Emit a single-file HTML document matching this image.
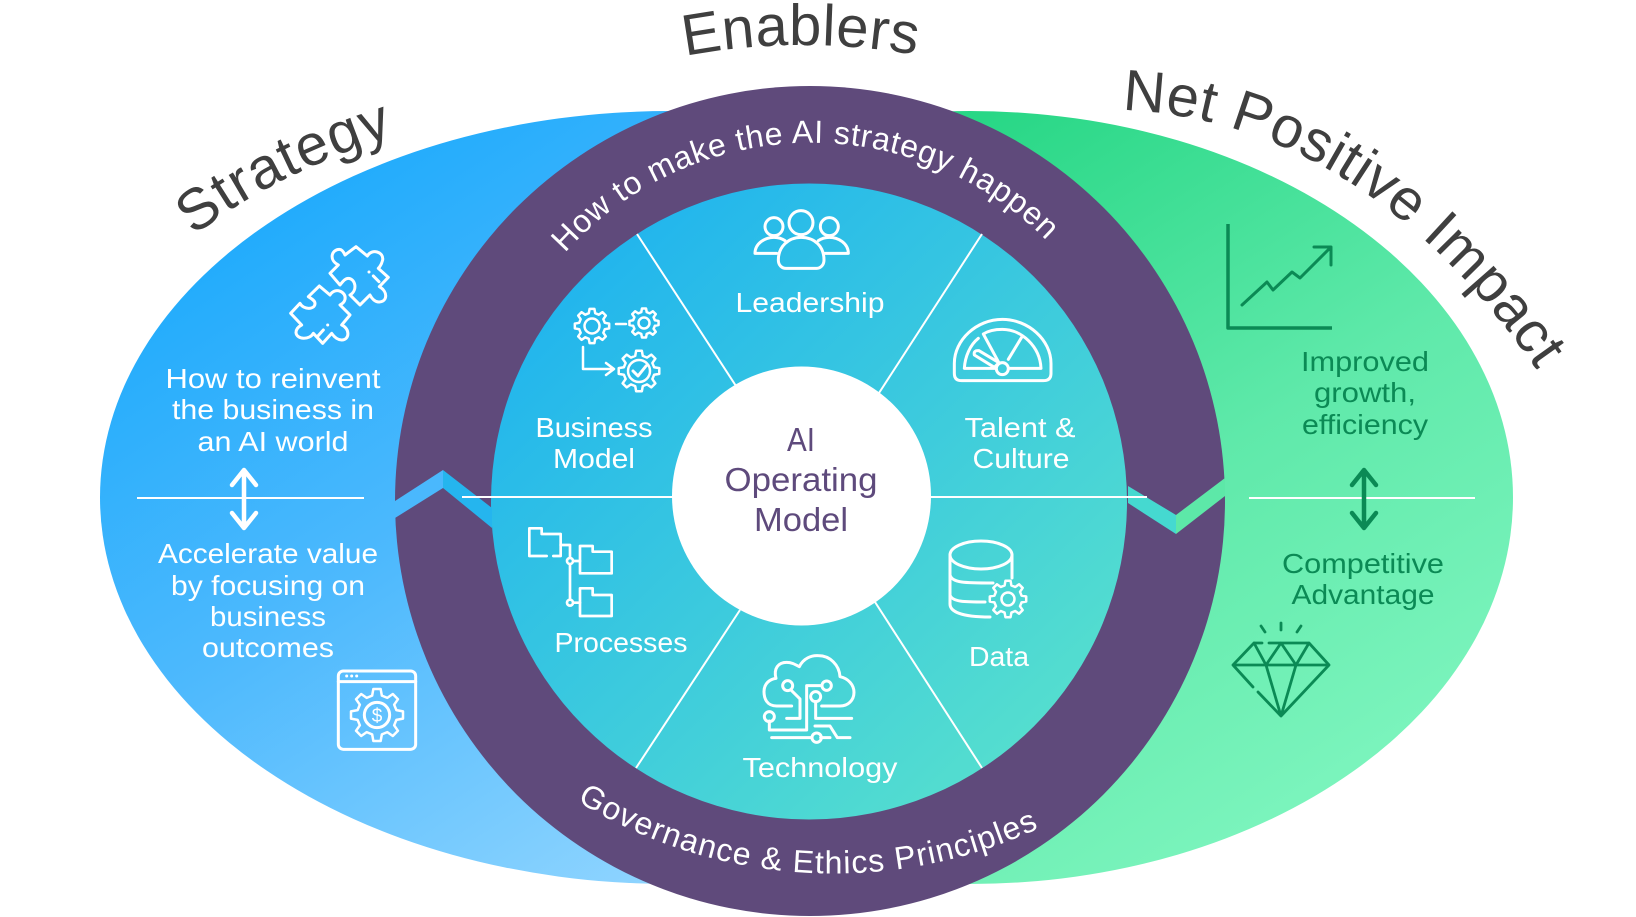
<!DOCTYPE html>
<html><head><meta charset="utf-8"><style>
html,body{margin:0;padding:0;background:#fff}
svg{display:block}
text{font-family:"Liberation Sans",sans-serif}
.w{fill:#fff;font-size:28px;text-anchor:middle}
.g{fill:#0b8a55;font-size:28px;text-anchor:middle}
.t{fill:#3f3f3f;font-size:58px}
.p{fill:#5e4a7c;font-size:33px;text-anchor:middle}
.i{fill:none;stroke:#fff;stroke-width:3;stroke-linejoin:round;stroke-linecap:round}
.z{fill:none;stroke:#fff;stroke-width:9;stroke-linejoin:round;stroke-linecap:round}
.d{fill:none;stroke:#0b8a55;stroke-width:3.5;stroke-linejoin:round;stroke-linecap:round}
.ns{fill:none;stroke:#fff;stroke-width:2.5;stroke-linejoin:round}
</style></head><body>
<svg width="1636" height="917" viewBox="0 0 1636 917" xmlns="http://www.w3.org/2000/svg">
<defs>
<linearGradient id="b" gradientUnits="userSpaceOnUse" x1="250" y1="200" x2="700" y2="890"><stop offset="0" stop-color="#1fabfc"/><stop offset=".45" stop-color="#4db9fd"/><stop offset="1" stop-color="#93d6ff"/></linearGradient>
<linearGradient id="gr" gradientUnits="userSpaceOnUse" x1="960" y1="130" x2="1400" y2="820"><stop offset="0" stop-color="#28d786"/><stop offset=".5" stop-color="#5fe9aa"/><stop offset="1" stop-color="#80f6c0"/></linearGradient>
<linearGradient id="c" gradientUnits="userSpaceOnUse" x1="560" y1="240" x2="1060" y2="760"><stop offset="0" stop-color="#1fb3ef"/><stop offset="1" stop-color="#57e0cd"/></linearGradient>
<path id="a1" d="M565,253 A331,331 0 0 1 1066,262"/>
<path id="a2" d="M577,801 A490,490 0 0 0 1048,824"/>
<path id="s" d="M194,236 Q275,172 405,132"/>
<path id="e" d="M685,56 Q802,34 922,56"/>
<path id="n" d="M1122,110 Q1372,120 1552,392"/>
<path id="gp" vector-effect="non-scaling-stroke" d="M-1.94,-7.76L-1.46,-10.4L1.46,-10.4L1.94,-7.76L4.12,-6.86L6.32,-8.39L8.39,-6.32L6.86,-4.12L7.76,-1.94L10.4,-1.46L10.4,1.46L7.76,1.94L6.86,4.12L8.39,6.32L6.32,8.39L4.12,6.86L1.94,7.76L1.46,10.4L-1.46,10.4L-1.94,7.76L-4.12,6.86L-6.32,8.39L-8.39,6.32L-6.86,4.12L-7.76,1.94L-10.4,1.46L-10.4,-1.46L-7.76,-1.94L-6.86,-4.12L-8.39,-6.32L-6.32,-8.39L-4.12,-6.86Z"/>
</defs>
<ellipse cx="670" cy="497.5" rx="570" ry="386.5" fill="url(#b)"/>
<ellipse cx="970" cy="497.5" rx="543" ry="386.5" fill="url(#gr)"/>
<circle cx="810" cy="501" r="415" fill="#5f4a7b"/>
<circle cx="809" cy="501.5" r="318" fill="url(#c)"/>
<polygon points="395,501 443,470 443,488 395,518" fill="#4ab8fd"/>
<polygon points="443,470 492,508 492,528 443,488" fill="#25b5ee"/>
<polygon points="1128,486 1176,515 1176,534 1128,503" fill="#45d9d0"/>
<polygon points="1176,515 1225,478 1225,496 1176,534" fill="#5de8a8"/>
<g stroke="#fff" stroke-width="2" fill="none">
<path d="M637,234L736,386M982,234L879,393M740,610L636,768M875,602L982,768"/>
<path d="M462,497H680M925,497H1147"/>
<path d="M137,498H364M1249,498H1475"/>
</g>
<circle cx="801.5" cy="496" r="129.5" fill="#fff"/>
<path d="M244,472V526M232,485L244,470L256,485M232,513L244,528L256,513" fill="none" stroke="#fff" stroke-width="4.5" stroke-linecap="round" stroke-linejoin="round"/>
<path d="M1364,472V526M1352,485L1364,470L1376,485M1352,513L1364,528L1376,513" fill="none" stroke="#0b8a55" stroke-width="4.5" stroke-linecap="round" stroke-linejoin="round"/>

<text class="t" letter-spacing="1.2"><textPath href="#s">Strategy</textPath></text>
<text class="t" letter-spacing=".5"><textPath href="#e">Enablers</textPath></text>
<text class="t" letter-spacing=".5"><textPath href="#n">Net Positive Impact</textPath></text>
<text fill="#fff" font-size="32" letter-spacing=".7"><textPath href="#a1">How to make the AI strategy happen</textPath></text>
<text fill="#fff" font-size="32" letter-spacing="1.15"><textPath href="#a2">Governance &amp; Ethics Principles</textPath></text>

<text class="w" x="273" y="388" textLength="215" lengthAdjust="spacingAndGlyphs">How to reinvent</text>
<text class="w" x="273" y="419" textLength="202" lengthAdjust="spacingAndGlyphs">the business in</text>
<text class="w" x="273" y="451" textLength="151" lengthAdjust="spacingAndGlyphs">an AI world</text>
<text class="w" x="268" y="563" textLength="220" lengthAdjust="spacingAndGlyphs">Accelerate value</text>
<text class="w" x="268" y="595" textLength="194" lengthAdjust="spacingAndGlyphs">by focusing on</text>
<text class="w" x="268" y="626" textLength="116" lengthAdjust="spacingAndGlyphs">business</text>
<text class="w" x="268" y="657" textLength="132" lengthAdjust="spacingAndGlyphs">outcomes</text>
<text class="w" x="594" y="437" textLength="117" lengthAdjust="spacingAndGlyphs">Business</text>
<text class="w" x="594" y="468" textLength="82" lengthAdjust="spacingAndGlyphs">Model</text>
<text class="w" x="810" y="312" textLength="149" lengthAdjust="spacingAndGlyphs">Leadership</text>
<text class="w" x="1020" y="437" textLength="111" lengthAdjust="spacingAndGlyphs">Talent &amp;</text>
<text class="w" x="1021" y="468" textLength="97" lengthAdjust="spacingAndGlyphs">Culture</text>
<text class="w" x="621" y="652" textLength="133" lengthAdjust="spacingAndGlyphs">Processes</text>
<text class="w" x="820" y="777" textLength="155" lengthAdjust="spacingAndGlyphs">Technology</text>
<text class="w" x="999" y="666" textLength="60" lengthAdjust="spacingAndGlyphs">Data</text>
<text class="p" x="801" y="451" textLength="28" lengthAdjust="spacingAndGlyphs">AI</text>
<text class="p" x="801" y="491" textLength="153" lengthAdjust="spacingAndGlyphs">Operating</text>
<text class="p" x="801" y="531" textLength="94" lengthAdjust="spacingAndGlyphs">Model</text>
<text class="g" x="1365" y="371" textLength="128" lengthAdjust="spacingAndGlyphs">Improved</text>
<text class="g" x="1365" y="402" textLength="102" lengthAdjust="spacingAndGlyphs">growth,</text>
<text class="g" x="1365" y="434" textLength="126" lengthAdjust="spacingAndGlyphs">efficiency</text>
<text class="g" x="1363" y="573" textLength="162" lengthAdjust="spacingAndGlyphs">Competitive</text>
<text class="g" x="1363" y="604" textLength="143" lengthAdjust="spacingAndGlyphs">Advantage</text>

<!-- puzzle -->
<g class="z" transform="translate(280,240) scale(.3333)">
<path d="M195,45 L228,20 L262,48 C275,25 312,35 308,60 C305,72 300,80 295,85 L325,112 L298,140 C325,155 322,185 298,186 C285,187 275,175 270,165 L240,195 L210,165 C235,150 225,115 205,115 C195,115 188,125 180,135 L150,100 L175,75 C145,60 155,28 178,28 C186,28 192,38 195,45Z"/>
<path d="M267,96h.1M280,108L297,125"/>
<path d="M85,170 L118,138 L150,165 C165,140 200,155 195,178 C193,186 186,192 180,195 L210,225 L185,255 C210,265 210,300 185,300 C172,300 162,290 155,280 L128,310 L100,280 C90,300 50,300 48,278 C48,268 55,260 65,255 L32,220 L60,190 C70,210 105,210 105,190 C105,182 95,176 85,170Z"/>
<path d="M143,255h.1M130,270L112,290"/>
</g>
<!-- process gears -->
<g class="ns"><use href="#gp" transform="translate(592,326) scale(1.65)"/><circle cx="592" cy="326" r="7.5"/>
<use href="#gp" transform="translate(644,323) scale(1.4)"/><circle cx="644" cy="323" r="5.5"/>
<use href="#gp" transform="translate(639,371) scale(1.95)"/><circle cx="639" cy="371" r="11"/></g>
<g class="i"><path d="M616,324H626M583,347V369H612M606,363L614,369L606,375" stroke-width="2.5"/></g>
<path d="M633,371L638,376L646,366" class="i" stroke-width="2"/>
<!-- people -->
<g class="z" transform="translate(750,200) scale(.3333)"><circle cx="153" cy="68" r="36"/><circle cx="72" cy="80" r="27"/><circle cx="238" cy="80" r="27"/>
<path d="M85,180 C85,140 115,112 153,112 C195,112 222,140 222,180 C222,195 212,205 200,205 H108 C95,205 85,195 85,180Z"/>
<path d="M80,160 H15 C15,130 45,112 72,112 C85,112 95,115 105,122"/><path d="M225,160 H295 C295,130 265,112 238,112 C225,112 215,115 205,122"/></g>
<!-- gauge -->
<g class="z" transform="translate(945,310) scale(.3333)">
<path d="M28,190 V160 C28,90 95,28 172,28 C250,28 318,90 318,160 V190 Q318,212 295,212 H50 Q28,212 28,190Z"/>
<path d="M100,85 C75,105 60,140 58,175 H150 M195,175 H288 C285,110 230,58 172,58 C150,58 130,62 115,72 L160,155"/>
<path d="M230,82 L190,148"/>
<path d="M88,135 Q85,120 102,122 L162,158 L148,172 Z"/><circle cx="172" cy="176" r="18"/></g>
<!-- folders -->
<g class="z" style="stroke-width:8" transform="translate(520,520) scale(.3333)">
<path d="M80,108 H28 V25 H65 V42 H122 V108 H100"/><path d="M122,75 H150 V245"/><circle cx="150" cy="123" r="9" fill="#32c3e3"/><circle cx="150" cy="248" r="9" fill="#34c6e1"/>
<path d="M160,123 H180M160,248 H180"/><path d="M180,160 V78 H218 V95 H275 V160 Z"/><path d="M180,288 V205 H218 V225 H275 V288Z"/></g>
<!-- cloud -->
<g class="z" transform="translate(750,645) scale(.3333)">
<path d="M125,183 H80 C50,183 42,160 42,140 C42,115 60,102 78,100 C70,70 85,52 110,52 C125,52 135,58 148,65 C160,40 185,30 205,32 C240,32 268,60 270,95 C295,100 312,120 312,142 C312,165 295,183 270,183 H215"/>
<circle cx="113" cy="122" r="15"/><path d="M122,134 L150,162 V220 H110"/>
<path d="M58,228 V255 H170 V122 H215"/><circle cx="230" cy="122" r="14"/><circle cx="58" cy="215" r="15"/>
<circle cx="197" cy="155" r="15"/><path d="M197,170 V220 H305"/>
<path d="M195,243 H240 L262,278 H300"/><path d="M65,278 H185 M212,278 H240"/><circle cx="200" cy="278" r="14"/></g>
<!-- window gear -->
<g class="z" transform="translate(330,665) scale(.3333)"><rect x="25" y="18" width="232" height="235" rx="15"/><path d="M25,50H257"/><path d="M50,33h.1M65,33h.1M80,33h.1"/><circle cx="141" cy="150" r="38"/></g>
<use href="#gp" class="ns" transform="translate(377,715) scale(2.5)"/>
<text x="377" y="722" fill="#fff" font-size="19" text-anchor="middle">$</text>
<!-- database -->
<g class="i"><ellipse cx="981" cy="555" rx="31" ry="14"/><path d="M950,555V604C950,611 960,617 990,617M950,575C952,583 965,583 993,583M950,595C952,602 965,602 985,602M1012,555V578"/></g>
<use href="#gp" class="ns" transform="translate(1008,599) scale(1.75)"/><circle cx="1008" cy="599" r="6.5" class="ns"/>
<!-- chart -->
<g class="d"><path d="M1228,224V328H1332" stroke-linecap="butt"/><path d="M1242,305L1267,282L1273,290L1292,272L1300,278L1330,248M1314,247H1331V265" stroke-width="3"/></g>
<!-- diamond -->
<g class="d" style="stroke-width:2.8"><path d="M1254,643H1262M1269,643H1309L1329,665L1281,716L1258,692M1253,687L1233,665L1254,643M1233,665H1329M1254,643L1266,665L1281,643L1296,665L1309,643M1266,665L1281,716L1296,665M1281,623V630M1261,626L1265,632M1301,626L1297,632"/></g>
</svg>
</body></html>
